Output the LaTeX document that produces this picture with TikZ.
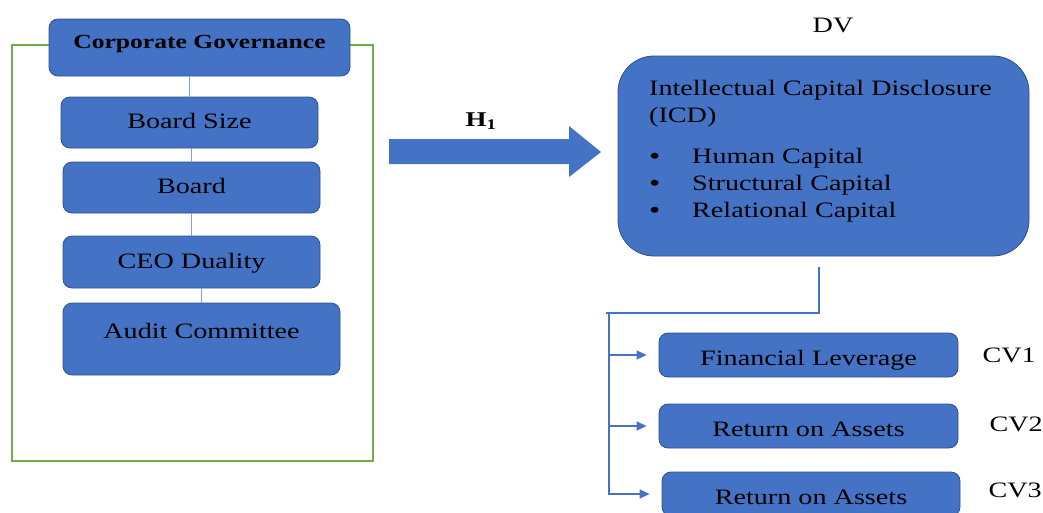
\documentclass[tikz,border=0pt]{standalone}
\usepackage{fontspec}
\setmainfont{Liberation Serif}[FakeStretch=1.28]
\usetikzlibrary{arrows.meta,positioning}
\definecolor{BoxBlue}{HTML}{4472C4}
\definecolor{EdgeBlue}{HTML}{2F528F}
\definecolor{LinkBlue}{HTML}{7F9FD8}
\definecolor{FrameGreen}{HTML}{70AD47}
\newcommand{\icdbullet}{\makebox[43pt][l]{\raisebox{-1.5pt}{\fontsize{25}{25}\selectfont\textbullet}}}

\begin{document}
\begin{tikzpicture}[
    x=1pt, y=-1pt,
    box/.style={rectangle,rounded corners=9pt,draw=EdgeBlue,fill=BoxBlue,line width=0.8pt,
      font=\fontsize{22}{26}\selectfont,inner sep=0pt,text height=15pt,text depth=3pt},
    gov/.style={box,minimum width=301pt,minimum height=57pt,
      font=\bfseries\fontsize{20}{24}\selectfont,text height=8pt,text depth=7pt},
    ivar/.style={box,minimum width=257pt,minimum height=51pt},
    cvar/.style={box,minimum width=299pt,minimum height=44pt,text height=20pt,text depth=0pt},
    txt/.style={inner sep=0pt,font=\fontsize{22}{26}\selectfont},
    link/.style={LinkBlue,line width=1.5pt},
    ctl/.style={BoxBlue,line width=1.4pt},
    >={Stealth[length=10pt,width=9pt,inset=0pt]},
  ]
  \useasboundingbox (0,0) rectangle (1043,512);
  % Frame - governance block
  \draw[FrameGreen,line width=1.2pt] (12,45) rectangle (373,461);
  % IV boxes
  \node[gov] (cg) at (199.5,47.5) {Corporate Governance};
  \node[ivar] (bs) at (189.5,122.5) {Board Size};
  \node[ivar] (board) at (191.5,187.5) {Board};
  \node[ivar,minimum height=52pt] (ceo) at (191.5,262) {CEO Duality};
  \node[ivar,minimum width=277pt,minimum height=72pt,text height=8pt,text depth=10pt] (audit) at (201.5,339) {Audit Committee};
  \draw[link] (cg.south -| bs.north) -- (bs.north);
  \draw[link] (bs.south -| board.north) -- (board.north);
  \draw[link] (board.south) -- (ceo.north);
  \draw[link] (ceo.south -| audit.north) -- (audit.north);
  % Hypothesis arrow
  \fill[BoxBlue] (389,139) -- (569,139) -- (569,126) -- (601,152) -- (569,177) -- (569,164) -- (389,164) -- cycle;
  \node[txt,font=\bfseries\fontsize{21}{24}\selectfont,anchor=base] (h1) at (481,126) {H\textsubscript{1}};
  % DV box
  \node[box,rounded corners=36pt,minimum width=411pt,minimum height=200pt] (icd) at (823.5,156) {};
  \node[txt,above=23pt of icd,xshift=9.5pt] (dv) {DV};
  \node[txt,anchor=base west] (icdtitle) at (649,95) {Intellectual Capital Disclosure};
  \node[txt,anchor=base west] (icdabbr) at (649,122) {(ICD)};
  \node[txt,anchor=base west] (hc) at (649,163) {\icdbullet Human Capital};
  \node[txt,anchor=base west] (sc) at (649,190) {\icdbullet Structural Capital};
  \node[txt,anchor=base west] (rc) at (649,217) {\icdbullet Relational Capital};
  % CV boxes
  \node[cvar] (fl) at (808.5,355) {Financial Leverage};
  \node[cvar] (roa) at (808.5,426) {Return on Assets};
  \node[cvar,minimum width=298pt] (roa3) at (811,494) {Return on Assets};
  \node[txt,right=24pt of fl] (cv1) {CV1};
  \node[txt,right=31pt of roa,yshift=2pt] (cv2) {CV2};
  \node[txt,right=28pt of roa3,yshift=4pt] (cv3) {CV3};
  % Control links
  \coordinate (drop) at (819,267);
  \coordinate (elbow) at (819,313);
  \coordinate (stub) at (606,313);
  \coordinate (trunk) at (609,313);
  \draw[ctl] (drop) -- (elbow) -- (stub);
  \draw[ctl,->] (trunk) |- ([xshift=-12pt]roa3.west);
  \draw[ctl,->] (trunk |- fl) -- ([xshift=-12pt]fl.west);
  \draw[ctl,->] (trunk |- roa) -- ([xshift=-12pt]roa.west);
\end{tikzpicture}
\end{document}
